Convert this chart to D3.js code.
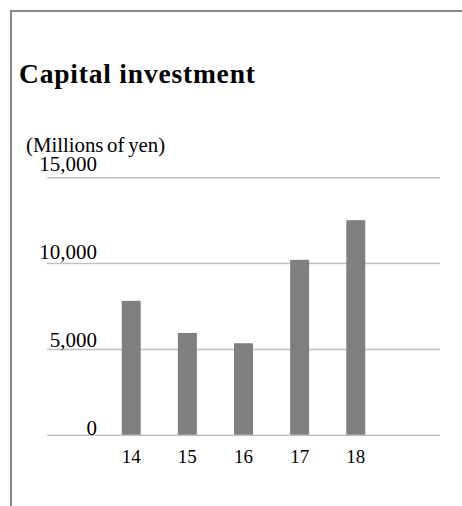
<!DOCTYPE html>
<html>
<head>
<meta charset="utf-8">
<script src="https://cdn.jsdelivr.net/npm/d3@7"></script>
<style>
  html, body { margin: 0; padding: 0; background: #fff; }
  svg { display: block; }
  text { font-family: "Liberation Serif", "Times New Roman", serif; fill: #000; }
</style>
</head>
<body>
<script>
// Capital investment by fiscal year, millions of yen
const years = ["14", "15", "16", "17", "18"];
const investment = [7800, 5930, 5330, 10190, 12500];
const yTicks = [0, 5000, 10000, 15000];
const yTickLabels = ["0", "5,000", "10,000", "15,000"];

const W = 462, H = 506;
const plot = { left: 47, right: 440, top: 177.3, bottom: 434.7 };

const svg = d3.select("body").append("svg")
  .attr("width", W).attr("height", H);

// panel frame: left and top edges only
svg.append("path")
  .attr("d", `M11,${H} V11 H${W}`)
  .attr("fill", "none")
  .attr("stroke", "#888")
  .attr("stroke-width", 2);

svg.append("text")
  .attr("x", 19).attr("y", 83)
  .style("font-size", "27.5px")
  .style("font-weight", "bold")
  .style("letter-spacing", "0.8px")
  .text("Capital investment");

svg.append("text")
  .attr("x", 26).attr("y", 151.5)
  .style("font-size", "20.8px")
  .style("word-spacing", "-1.5px")
  .text("(Millions of yen)");

const x = d3.scaleBand()
  .domain(years)
  .range([plot.left, plot.right])
  .paddingInner(0.662)
  .paddingOuter(1.331);

const y = d3.scaleLinear()
  .domain([0, 15000])
  .range([plot.bottom, plot.top]);

// value labels sit a little above their gridlines
const yLabel = d3.scaleLinear()
  .domain([0, 15000])
  .range([427.8, 163.3]);

// horizontal gridlines
const grid = svg.append("g")
  .attr("transform", `translate(${plot.left},0)`)
  .call(d3.axisLeft(y)
    .tickValues(yTicks)
    .tickSize(-(plot.right - plot.left))
    .tickFormat(""));
grid.select(".domain").remove();
grid.selectAll(".tick line")
  .attr("stroke", "#c0c0c0")
  .attr("stroke-width", 1.5);

svg.append("g")
  .selectAll("text")
  .data(yTicks)
  .join("text")
  .attr("x", 97)
  .attr("y", d => yLabel(d))
  .attr("dy", "0.35em")
  .attr("text-anchor", "end")
  .style("font-size", "21px")
  .text((d, i) => yTickLabels[i]);

// bars
svg.append("g")
  .selectAll("rect")
  .data(years.map((yr, i) => ({ yr, v: investment[i] })))
  .join("rect")
  .attr("x", d => x(d.yr))
  .attr("width", x.bandwidth())
  .attr("y", d => y(d.v))
  .attr("height", d => y(0) - y(d.v))
  .attr("fill", "#7f7f7f");

// category axis
const xa = svg.append("g")
  .attr("transform", `translate(0,${plot.bottom})`)
  .call(d3.axisBottom(x).tickSize(0));
xa.select(".domain").remove();
xa.selectAll(".tick text")
  .attr("y", 28)
  .attr("dy", 0)
  .attr("fill", "#000")
  .style("font-family", "'Liberation Serif', 'Times New Roman', serif")
  .style("font-size", "19px");
</script>
</body>
</html>
